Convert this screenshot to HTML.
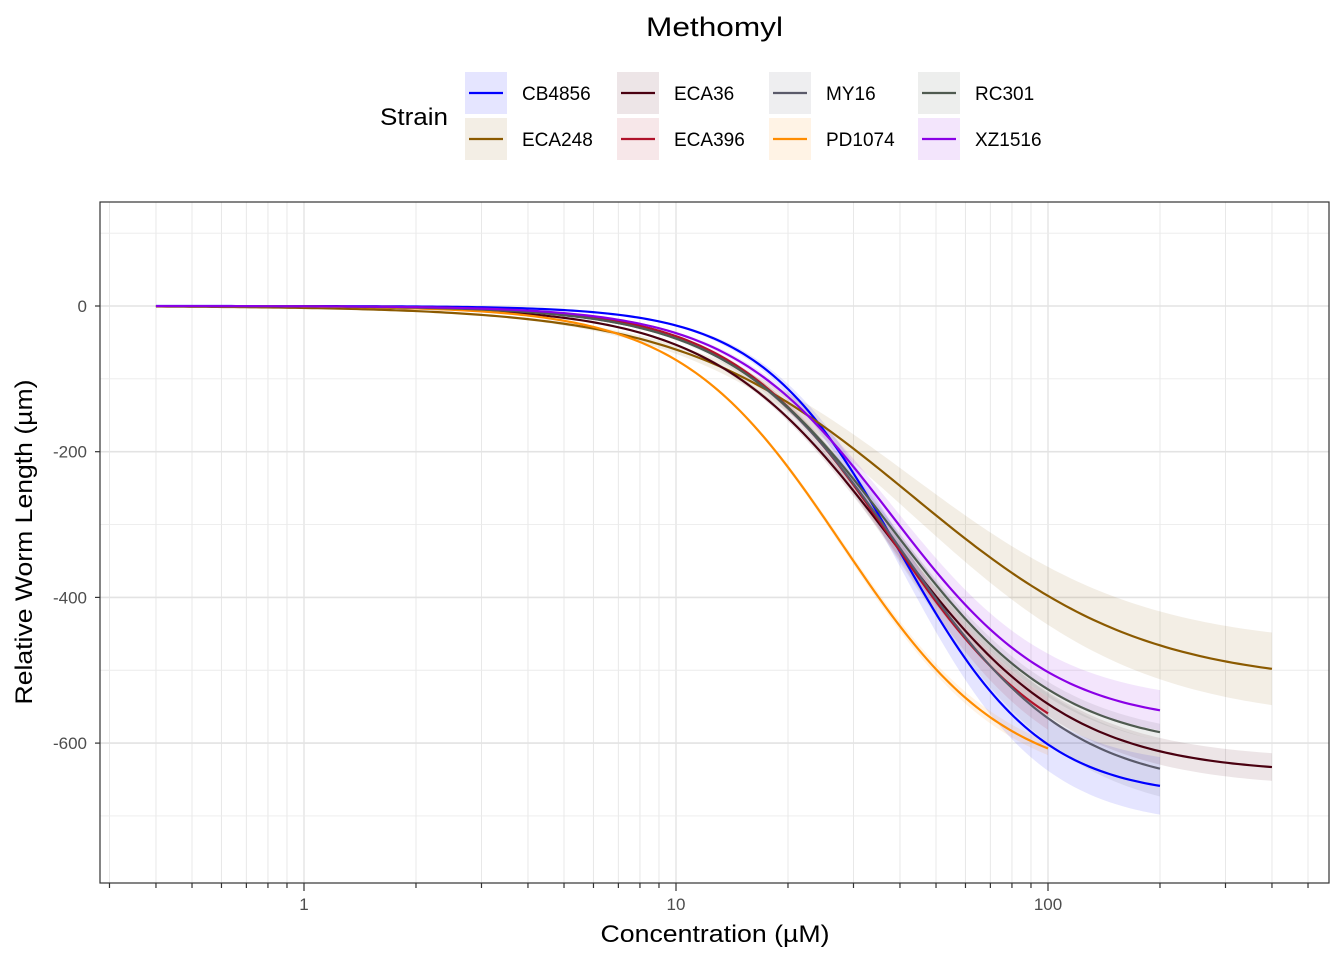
<!DOCTYPE html>
<html><head><meta charset="utf-8">
<style>
body{margin:0;background:#fff;font-family:"Liberation Sans",sans-serif;}
svg text{font-family:"Liberation Sans",sans-serif;}
</style></head>
<body>
<svg id="chart" width="1344" height="960" viewBox="0 0 1344 960">
<rect x="0" y="0" width="1344" height="960" fill="#fff"/>
<text x="714.5" y="36" font-size="27" text-anchor="middle" textLength="137" lengthAdjust="spacingAndGlyphs">Methomyl</text>
<g id="grid"></g>
<g id="ribbons"></g>
<g id="lines"></g>
<rect x="100" y="202" width="1229" height="681" fill="none" stroke="#333" stroke-width="1.2"/>
<g id="axes"></g>
<text x="715" y="942" font-size="24" text-anchor="middle" textLength="229" lengthAdjust="spacingAndGlyphs">Concentration (µM)</text>
<text x="32" y="542" font-size="24" text-anchor="middle" textLength="325" lengthAdjust="spacingAndGlyphs" transform="rotate(-90 32 542)">Relative Worm Length (µm)</text>
<text x="414" y="125" font-size="24" text-anchor="middle" textLength="68" lengthAdjust="spacingAndGlyphs">Strain</text>
<g id="legend"></g>
</svg>
<script>
const strains = ["CB4856","ECA248","ECA36","ECA396","MY16","PD1074","RC301","XZ1516"];
const colors = ["#0000ff","#8b5a00","#4a0010","#b0122a","#5a5a6a","#ff8c00","#4f5a50","#8a00e6"];
const lowerLimit = [-675,-520,-642,-640,-665,-655,-610,-575];
const ec50 = [40,43,38,38,40,28,38,38];
const hillSlope = [2.3,1.4,1.8,2.0,1.9,2.0,1.9,2.0];
const xMin = [0.4,0.4,0.4,0.4,0.4,0.4,0.4,0.4];
const xMax = [200,400,400,100,200,100,200,200];
const ciFrac = [0.06,0.1,0.03,0.04,0.06,0.015,0.02,0.05];
const yTicks = [0,-200,-400,-600];
const yMinor = [100,-100,-300,-500,-700];
const xLabels = [1,10,100];

const NS="http://www.w3.org/2000/svg";
const X0=100,X1=1329,Y0=202,Y1=883;
function sx(v){return 304+Math.log10(v)*372;}
function sy(v){return 306-v*0.7285;}
function mk(tag,attrs,parent){const e=document.createElementNS(NS,tag);for(const k in attrs)e.setAttribute(k,attrs[k]);parent.appendChild(e);return e;}
const grid=document.getElementById('grid'),axes=document.getElementById('axes');
mk('rect',{x:X0,y:Y0,width:X1-X0,height:Y1-Y0,fill:'#fff'},grid);
for(let d=-1;d<=2;d++)for(let m=1;m<=9;m++){const v=m*Math.pow(10,d);const px=sx(v);if(px<X0||px>X1)continue;
 const l=mk('line',{x1:px,x2:px,y1:Y0,y2:Y1,stroke:'#e8e8e8','stroke-width':m==1?1.6:1},grid);
 
 
 const t=mk('line',{x1:px,x2:px,y1:Y1,y2:Y1+(m==1?8:5),stroke:'#333','stroke-width':1.2},axes);
 
 }
for(const v of yMinor){const l=mk('line',{x1:X0,x2:X1,y1:sy(v),y2:sy(v),stroke:'#ebebeb','stroke-width':0.9},grid);
 
 }
for(const v of yTicks){const l=mk('line',{x1:X0,x2:X1,y1:sy(v),y2:sy(v),stroke:'#e3e3e3','stroke-width':1.6},grid);
 
 
 const t=mk('line',{x1:X0-5,x2:X0,y1:sy(v),y2:sy(v),stroke:'#333','stroke-width':1.2},axes);
 
 
 const tx=mk('text',{x:X0-13,y:sy(v)+6,'font-size':17,fill:'#4d4d4d','text-anchor':'end'},axes);tx.textContent=v;
 
 }
for(const v of xLabels){const tx=mk('text',{x:sx(v),y:Y1+27,'font-size':17,fill:'#4d4d4d','text-anchor':'middle'},axes);tx.textContent=v;
 
 }
const rib=document.getElementById('ribbons'),lines=document.getElementById('lines');
function f(i,x){return lowerLimit[i]/(1+Math.pow(ec50[i]/x,hillSlope[i]));}
strains.forEach((s,i)=>{
 const pts=[],up=[],lo=[];const a=Math.log10(xMin[i]),b=Math.log10(xMax[i]);
 for(let k=0;k<=200;k++){const x=Math.pow(10,a+(b-a)*k/200);const y=f(i,x);const w=Math.abs(y)*ciFrac[i];
  pts.push(sx(x)+','+sy(y));up.push(sx(x)+','+sy(y+w));lo.unshift(sx(x)+','+sy(y-w));}
 const r=mk('polygon',{points:up.concat(lo).join(' '),fill:colors[i],'fill-opacity':0.1},rib);
 
 
 const p=mk('polyline',{points:pts.join(' '),fill:'none',stroke:colors[i],'stroke-width':2.2},lines);
 
 
});
const leg=document.getElementById('legend');
const colX=[465,617,769,918];
strains.forEach((s,i)=>{const c=Math.floor(i/2),r=i%2;
 const kx=colX[c],ky=r?118:72;
 const g=mk('g',{},leg);
 
 
 mk('rect',{x:kx,y:ky,width:42,height:42,fill:colors[i],'fill-opacity':0.1},g);
 mk('line',{x1:kx+4,x2:kx+38,y1:ky+21,y2:ky+21,stroke:colors[i],'stroke-width':2.2},g);
 const t=mk('text',{x:kx+57,y:ky+28,'font-size':19},g);t.textContent=s;});
</script>
</body></html>
